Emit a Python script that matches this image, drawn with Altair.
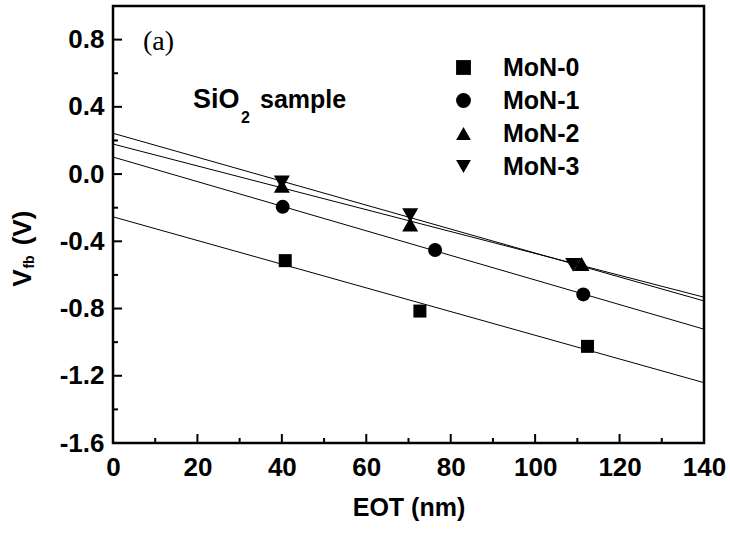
import altair as alt
import pandas as pd

# Flat-band voltage vs. equivalent oxide thickness for four MoN gate samples
series_names = ["MoN-0", "MoN-1", "MoN-2", "MoN-3"]
eot_mon0 = [40.8, 72.7, 112.4]
vfb_mon0 = [-0.515, -0.815, -1.025]
eot_mon1 = [40.2, 76.3, 111.4]
vfb_mon1 = [-0.195, -0.452, -0.716]
eot_mon2 = [40.0, 70.4, 111.0]
vfb_mon2 = [-0.07, -0.30, -0.535]
eot_mon3 = [40.0, 70.4, 109.0]
vfb_mon3 = [-0.05, -0.245, -0.54]

x_major = [20, 40, 60, 80, 100, 120]
x_minor = [10, 30, 50, 70, 90, 110, 130]
y_major = [-1.2, -0.8, -0.4, 0.0, 0.4, 0.8]
y_minor = [-1.4, -1.0, -0.6, -0.2, 0.2, 0.6]

rows = []
for name, xs, ys in zip(
    series_names,
    [eot_mon0, eot_mon1, eot_mon2, eot_mon3],
    [vfb_mon0, vfb_mon1, vfb_mon2, vfb_mon3],
):
    for xv, yv in zip(xs, ys):
        rows.append({"series": name, "eot": xv, "vfb": yv})
df = pd.DataFrame(rows)

W, H = 591, 437
FONT = "Liberation Sans"

x_scale = alt.Scale(domain=[0, 140], nice=False, zero=False)
y_scale = alt.Scale(domain=[-1.6, 1.0], nice=False, zero=False)

x_axis = alt.Axis(
    values=[0, 20, 40, 60, 80, 100, 120, 140],
    format="d",
    title="EOT (nm)",
    titlePadding=15,
    labelPadding=11,
    labelFlush=False,
    labelOverlap=False,
)
y_axis = alt.Axis(
    values=[-1.6, -1.2, -0.8, -0.4, 0.0, 0.4, 0.8],
    labelExpr="replace(format(datum.value, '.1f'), '\u2212', '-')",
    title=None,
    labelPadding=9,
    labelFlush=False,
    labelOverlap=False,
)


def xq(field):
    return alt.X(f"{field}:Q", scale=x_scale, axis=x_axis, title="EOT (nm)")


def yq(field):
    return alt.Y(f"{field}:Q", scale=y_scale, axis=y_axis, title=None)


fits = (
    alt.Chart(df)
    .transform_regression("eot", "vfb", groupby=["series"], extent=[0, 140])
    .mark_line(color="black", strokeWidth=1, clip=True)
    .encode(x=xq("eot"), y=yq("vfb"), detail="series:N")
)

# marker area per symbol type
size_expr = (
    "datum.series == 'MoN-0' ? 169 : datum.series == 'MoN-1' ? 196 : 256"
)

points = (
    alt.Chart(df)
    .transform_calculate(msize=size_expr)
    .mark_point(filled=True, color="black", opacity=1)
    .encode(
        x=xq("eot"),
        y=yq("vfb"),
        size=alt.Size("msize:Q", scale=None),
        shape=alt.Shape(
            "series:N",
            scale=alt.Scale(
                domain=series_names,
                range=["square", "circle", "triangle-up", "triangle-down"],
            ),
            legend=alt.Legend(
                title=None,
                orient="none",
                legendX=338,
                legendY=49,
                labelFont=FONT,
                labelFontSize=25,
                labelFontWeight="bold",
                labelColor="black",
                labelOffset=27,
                rowPadding=7,
                symbolSize=220,
                symbolFillColor="black",
                symbolStrokeColor="black",
                symbolStrokeWidth=0,
            ),
        ),
    )
)

one = pd.DataFrame({"k": [0]})

y_major_df = pd.DataFrame({"v": y_major})
y_minor_df = pd.DataFrame({"v": y_minor})
x_major_df = pd.DataFrame({"v": x_major})
x_minor_df = pd.DataFrame({"v": x_minor})

y_ticks_major = alt.Chart(y_major_df).mark_rule(color="black", strokeWidth=2).encode(
    y=yq("v"), x=alt.value(0), x2=alt.value(9)
)
y_ticks_minor = alt.Chart(y_minor_df).mark_rule(color="black", strokeWidth=2).encode(
    y=yq("v"), x=alt.value(0), x2=alt.value(5)
)
x_ticks_major = alt.Chart(x_major_df).mark_rule(color="black", strokeWidth=2).encode(
    x=xq("v"), y=alt.value(H), y2=alt.value(H - 9)
)
x_ticks_minor = alt.Chart(x_minor_df).mark_rule(color="black", strokeWidth=2).encode(
    x=xq("v"), y=alt.value(H), y2=alt.value(H - 5)
)


def label(text, x, y, size, font=FONT, weight="bold", align="left", angle=0, baseline="middle"):
    return alt.Chart(one).mark_text(
        text=text,
        font=font,
        fontSize=size,
        fontWeight=weight,
        color="black",
        align=align,
        baseline=baseline,
        angle=angle,
    ).encode(x=alt.value(x), y=alt.value(y))


panel_tag = label("(a)", 30, 36, 28, font="Liberation Serif", weight="normal")
sio = label("SiO", 80, 94, 27)
sio_sub = label("2", 128, 112, 16)
sio_rest = label("sample", 147, 94, 25)

# rotated axis title V_fb (V)
vt_main = label("V", -90, 272, 26, align="center", angle=270)
vt_sub = label("fb", -83, 256, 14, align="center", angle=270)
vt_unit = label("(V)", -90, 222, 26, align="center", angle=270)

chart = (
    alt.layer(
        fits,
        points,
        y_ticks_major,
        y_ticks_minor,
        x_ticks_major,
        x_ticks_minor,
        panel_tag,
        sio,
        sio_sub,
        sio_rest,
        vt_main,
        vt_sub,
        vt_unit,
    )
    .properties(
        width=W,
        height=H,
        autosize=alt.AutoSizeParams(type="none"),
        padding={"left": 113, "top": 6, "right": 26, "bottom": 90},
        background="white",
    )
    .configure_view(stroke="black", strokeWidth=2.5)
    .configure_axis(
        domain=False,
        ticks=False,
        grid=False,
        labelFont=FONT,
        labelFontSize=26,
        labelFontWeight="bold",
        labelColor="black",
        titleFont=FONT,
        titleFontSize=25,
        titleFontWeight="bold",
        titleColor="black",
    )
)

chart.save("out.html", embed_options={"renderer": "svg", "actions": False})
